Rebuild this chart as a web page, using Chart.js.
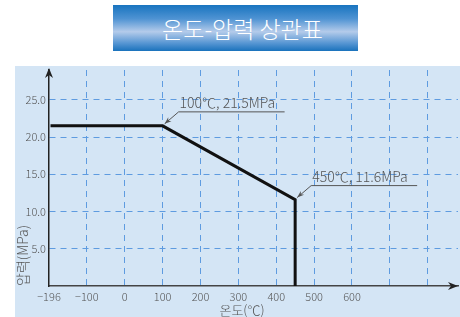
<!DOCTYPE html>
<html>
<head>
<meta charset="utf-8">
<script src="https://cdn.jsdelivr.net/npm/chart.js@4"></script>
<style>
  body { margin: 0; width: 460px; height: 317px; position: relative; overflow: hidden; background: #fff; }
  #title {
    position: absolute; left: 113px; top: 5px; width: 245px; height: 46px;
    background: linear-gradient(to bottom, #1874bf 0%, #4f93d3 30%, #b4cbea 58%, #5a98d4 82%, #1a72bc 100%);
    color: #fff; font: 300 23px "Noto Sans CJK KR", sans-serif; line-height: 46px;
    text-align: center; padding-left: 14px; box-sizing: border-box;
  }
  #panel { position: absolute; left: 15px; top: 66px; right: 0; bottom: 0; background: #d4e5f5; }
  #chart { position: absolute; left: 0; top: 0; }
</style>
</head>
<body>
<div id="title">온도-압력 상관표</div>
<div id="panel"></div>
<canvas id="chart" width="460" height="317"></canvas>
<script>
// temperature (℃) / pressure (MPa) curve
const temps = [-196, 100, 450, 450];
const pressures = [21.5, 21.5, 11.6, 0];

// axis ticks (-196 sits on the first tick slot)
const xTicks = [-200, -100, 0, 100, 200, 300, 400, 500, 600, 700, 800];
const xTickLabels = ['−196', '−100', '0', '100', '200', '300', '400', '500', '600', '', ''];
const yTicks = [0, 5, 10, 15, 20, 25];
const yTickLabels = ['', '5.0', '10.0', '15.0', '20.0', '25.0'];

const notes = [
  { x: 100, y: 21.5, text: '100℃, 21.5MPa' },
  { x: 450, y: 11.6, text: '450℃, 11.6MPa' }
];

const FONT = '"Noto Sans CJK KR", sans-serif';
const gridBlue = '#5e9be0';

function arrowHead(ctx, x, y, angle, len, half) {
  ctx.save();
  ctx.translate(x, y);
  ctx.rotate(angle);
  ctx.beginPath();
  ctx.moveTo(0, 0);
  ctx.lineTo(-len, -half);
  ctx.lineTo(-len * 0.7, 0);
  ctx.lineTo(-len, half);
  ctx.closePath();
  ctx.fill();
  ctx.restore();
}

const extras = {
  id: 'extras',
  afterDraw(chart) {
    const ctx = chart.ctx;
    const a = chart.chartArea;
    const xs = chart.scales.x, ys = chart.scales.y;
    ctx.save();
    // axis arrows
    ctx.fillStyle = '#222';
    arrowHead(ctx, a.left, a.top - 2, -Math.PI / 2, 10, 4);
    arrowHead(ctx, a.right, a.bottom, 0, 10, 4);

    // callouts
    ctx.strokeStyle = '#555';
    ctx.fillStyle = '#555';
    ctx.lineWidth = 1;
    ctx.font = '300 14px ' + FONT;
    ctx.textBaseline = 'alphabetic';
    notes.forEach(n => {
      const px = xs.getPixelForValue(n.x);
      const py = ys.getPixelForValue(n.y);
      const sx = px + 16, sy = py - 14;
      ctx.beginPath();
      ctx.moveTo(px + 122, sy);
      ctx.lineTo(sx, sy);
      ctx.lineTo(px + 2, py - 2);
      ctx.stroke();
      arrowHead(ctx, px + 2, py - 2, Math.atan2(sy - py, sx - px) + Math.PI, 7, 2.5);
      ctx.fillText(n.text, sx + 1, py - 18);
    });

    // x axis title
    ctx.fillStyle = '#555';
    ctx.font = '300 13px ' + FONT;
    ctx.textAlign = 'center';
    ctx.textBaseline = 'middle';
    ctx.fillText('온도(℃)', 242, 310);
    ctx.restore();
  }
};

new Chart(document.getElementById('chart'), {
  type: 'line',
  data: {
    datasets: [{
      data: temps.map((t, i) => ({ x: t, y: pressures[i] })),
      borderColor: '#111',
      borderWidth: 3,
      pointRadius: 0,
      tension: 0,
      borderJoinStyle: 'miter',
      clip: false
    }]
  },
  options: {
    responsive: false,
    animation: false,
    devicePixelRatio: 1,
    layout: { padding: { left: 12, top: 70, right: 2, bottom: 0 } },
    plugins: { legend: { display: false }, tooltip: { enabled: false } },
    scales: {
      x: {
        type: 'linear',
        min: -200,
        max: 880,
        afterBuildTicks: s => { s.ticks = xTicks.map(v => ({ value: v })); },
        afterFit: s => { s.height = 31; },
        grid: {
          drawTicks: false,
          color: c => (c.tick && c.tick.value === -200) ? 'rgba(0,0,0,0)' : gridBlue
        },
        border: { display: true, color: '#444', width: 1.5, dash: [6, 5] },
        ticks: {
          autoSkip: false,
          maxRotation: 0,
          padding: 4,
          color: '#555',
          font: { family: FONT, size: 11, weight: 300 },
          callback: (v) => xTickLabels[xTicks.indexOf(v)]
        }
      },
      y: {
        min: 0,
        max: 29,
        afterBuildTicks: s => { s.ticks = yTicks.map(v => ({ value: v })); },
        afterFit: s => { s.width = 37; },
        grid: {
          drawTicks: false,
          color: c => (c.tick && c.tick.value === 0) ? 'rgba(0,0,0,0)' : gridBlue
        },
        border: { display: true, color: '#222', width: 1.5, dash: [6, 5] },
        ticks: {
          padding: 3,
          color: '#555',
          font: { family: FONT, size: 11, weight: 300 },
          callback: (v) => yTickLabels[yTicks.indexOf(v)]
        },
        title: {
          display: true,
          text: '압력(MPa)',
          align: 'start',
          color: '#555',
          font: { family: FONT, size: 14, weight: 300 },
          padding: { top: 2, bottom: 0 }
        }
      }
    }
  },
  plugins: [extras]
});
</script>
</body>
</html>
